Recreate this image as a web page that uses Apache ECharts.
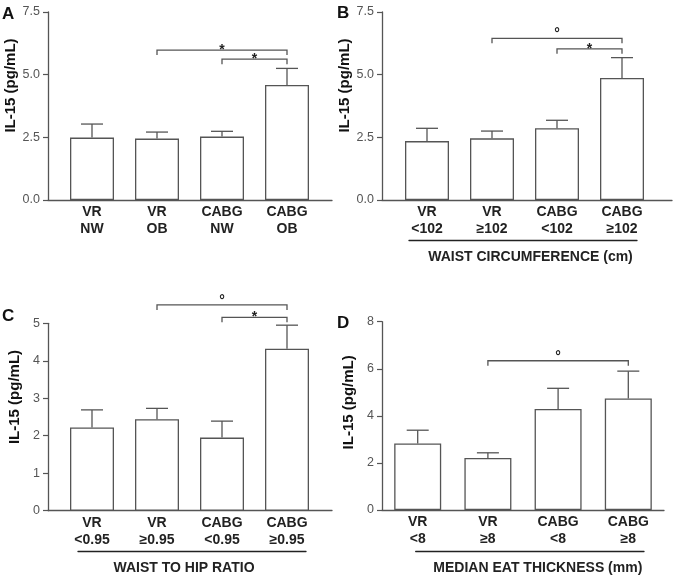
<!DOCTYPE html>
<html><head><meta charset="utf-8">
<script src="https://cdn.jsdelivr.net/npm/echarts@6/dist/echarts.min.js"></script>
<style>html,body{margin:0;padding:0;background:#fff}#c{width:678px;height:579px}</style>
</head><body><div id="c"></div><script>
// ---- data ----
const catsA = ['VR\nNW','VR\nOB','CABG\nNW','CABG\nOB'];
const catsB = ['VR\n<102','VR\n≥102','CABG\n<102','CABG\n≥102'];
const catsC = ['VR\n<0.95','VR\n≥0.95','CABG\n<0.95','CABG\n≥0.95'];
const catsD = ['VR\n<8','VR\n≥8','CABG\n<8','CABG\n≥8'];
const meanA = [2.49, 2.45, 2.53, 4.59];
const upperA = [3.03, 2.71, 2.74, 5.25];
const meanB = [2.35, 2.46, 2.86, 4.87];
const upperB = [2.86, 2.75, 3.18, 5.68];
const meanC = [2.22, 2.44, 1.95, 4.32];
const upperC = [2.69, 2.73, 2.39, 4.95];
const meanD = [2.83, 2.21, 4.29, 4.74];
const upperD = [3.39, 2.43, 5.17, 5.90];
// [from category, to category, height, symbol]
const sigA = [[1, 3, 5.98, '*'], [2, 3, 5.62, '*']];
const sigB = [[1, 3, 6.45, '°'], [2, 3, 6.03, '*']];
const sigC = [[1, 3, 5.49, '°'], [2, 3, 5.16, '*']];
const sigD = [[1, 3, 6.34, '°']];
const yTicksA = [0, 2.5, 5.0, 7.5];
const yTicksB = [0, 2.5, 5.0, 7.5];
const yTicksC = [0, 1, 2, 3, 4, 5];
const yTicksD = [0, 2, 4, 6, 8];
const yTitle = 'IL-15 (pg/mL)';
const xTitleB = 'WAIST CIRCUMFERENCE (cm)';
const xTitleC = 'WAIST TO HIP RATIO';
const xTitleD = 'MEDIAN EAT THICKNESS (mm)';
const letters = ['A', 'B', 'C', 'D'];

// ---- layout ----
const FONT = 'Liberation Sans, Arial, Helvetica, sans-serif';
const AX = '#555';
const panels = [
  {letter: letters[0], cats: catsA, mean: meanA, upper: upperA, sig: sigA, ticks: yTicksA, dec: 1, xTitle: null,
   wide: {left: 48, top: 12, width: 284, height: 188}, narrow: {left: 59.5, width: 260}, barW: 44,
   sep: null, letterPos: {left: 2, top: 6}, nameShift: 41},
  {letter: letters[1], cats: catsB, mean: meanB, upper: upperB, sig: sigB, ticks: yTicksB, dec: 1, xTitle: xTitleB,
   wide: {left: 382, top: 12, width: 290, height: 188}, narrow: {left: 394.5, width: 260}, barW: 44,
   sep: {left: 409, width: 228, bottomY: 240.7, shift: 15}, letterPos: {left: 337, top: 5}, nameShift: 41},
  {letter: letters[2], cats: catsC, mean: meanC, upper: upperC, sig: sigC, ticks: yTicksC, dec: 0, xTitle: xTitleC,
   wide: {left: 48, top: 323.3, width: 284, height: 187.4}, narrow: {left: 59.5, width: 260}, barW: 44,
   sep: {left: 78, width: 228, bottomY: 551.7, shift: -16}, letterPos: {left: 2, top: 308}, nameShift: 40},
  {letter: letters[3], cats: catsD, mean: meanD, upper: upperD, sig: sigD, ticks: yTicksD, dec: 0, xTitle: xTitleD,
   wide: {left: 382, top: 321.7, width: 282, height: 188.3}, narrow: {left: 382.6, width: 280.8}, barW: 47,
   sep: {left: 415.7, width: 228.3, bottomY: 551.7, shift: 16}, letterPos: {left: 337, top: 315}, nameShift: 27}
];

const grid = [], xAxis = [], yAxis = [], series = [], title = [];
panels.forEach(p => {
  const yMin = p.ticks[0], yMax = p.ticks[p.ticks.length - 1], yInt = p.ticks[1] - p.ticks[0];
  // wide grid: axes
  const gw = grid.length;
  grid.push({left: p.wide.left, top: p.wide.top, width: p.wide.width, height: p.wide.height});
  xAxis.push({type: 'value', gridIndex: gw, min: 0, max: 1, axisLine: {show: true, lineStyle: {color: AX, width: 1.3}},
    axisTick: {show: false}, axisLabel: {show: false}, splitLine: {show: false}});
  yAxis.push({type: 'value', gridIndex: gw, min: yMin, max: yMax, interval: yInt,
    axisLine: {show: true, lineStyle: {color: AX, width: 1.3}},
    axisTick: {show: true, length: 5, lineStyle: {color: AX, width: 1.2}},
    axisLabel: {color: '#555', fontSize: 12.5, fontFamily: FONT, margin: 8, formatter: v => v.toFixed(p.dec)},
    splitLine: {show: false},
    name: yTitle, nameLocation: 'middle', nameGap: 26,
    nameTextStyle: {fontFamily: FONT, fontSize: 15, fontWeight: 'bold', color: '#111', padding: [0, 0, 0, p.nameShift]}});
  // narrow grid: bars
  const gn = grid.length;
  grid.push({left: p.narrow.left, top: p.wide.top, width: p.narrow.width, height: p.wide.height});
  xAxis.push({type: 'category', gridIndex: gn, data: p.cats, axisLine: {show: false}, axisTick: {show: false},
    axisLabel: {interval: 0, fontFamily: FONT, fontSize: 14, fontWeight: 'bold', color: '#222', lineHeight: 17, margin: 4}});
  yAxis.push({type: 'value', gridIndex: gn, min: yMin, max: yMax, show: false});
  series.push({type: 'bar', xAxisIndex: gn, yAxisIndex: gn, data: p.mean, barWidth: p.barW, z: 2,
    itemStyle: {color: '#fff', borderColor: AX, borderWidth: 1.3}, silent: true});
  series.push({type: 'custom', xAxisIndex: gn, yAxisIndex: gn, z: 3, silent: true, clip: false,
    data: p.mean.map((m, j) => [j, m, p.upper[j]]),
    renderItem: (params, api) => {
      const a = api.coord([api.value(0), api.value(1)]);
      const b = api.coord([api.value(0), api.value(2)]);
      const st = {stroke: AX, lineWidth: 1.3};
      return {type: 'group', children: [
        {type: 'line', shape: {x1: a[0], y1: a[1], x2: b[0], y2: b[1]}, style: st},
        {type: 'line', shape: {x1: b[0] - 11, y1: b[1], x2: b[0] + 11, y2: b[1]}, style: st}
      ]};
    }});
  series.push({type: 'custom', xAxisIndex: gn, yAxisIndex: gn, z: 3, silent: true, clip: false,
    data: p.sig,
    renderItem: (params, api) => {
      const a = api.coord([api.value(0), api.value(2)]);
      const b = api.coord([api.value(1), api.value(2)]);
      const sym = p.sig[params.dataIndex][3];
      return {type: 'group', children: [
        {type: 'polyline', shape: {points: [[a[0], a[1] + 5], [a[0], a[1]], [b[0], a[1]], [b[0], a[1] + 5]]},
          style: {stroke: AX, lineWidth: 1.3, fill: null}},
        {type: 'text', style: {text: sym, x: (a[0] + b[0]) / 2, y: a[1] + (sym === '*' ? 7 : 3),
          align: 'center', verticalAlign: 'bottom', fontFamily: FONT, fontSize: 14, fontWeight: 'bold', fill: '#222'}}
      ]};
    }});
  // separator grid with x title
  if (p.sep) {
    const gs = grid.length;
    grid.push({left: p.sep.left, top: p.wide.top, width: p.sep.width, height: p.sep.bottomY - p.wide.top});
    const pad = p.sep.shift > 0 ? [0, 0, 0, p.sep.shift] : [0, -p.sep.shift, 0, 0];
    xAxis.push({type: 'value', gridIndex: gs, min: 0, max: 1, axisLine: {show: true, lineStyle: {color: '#222', width: 1.3}},
      axisTick: {show: false}, axisLabel: {show: false}, splitLine: {show: false},
      name: p.xTitle, nameLocation: 'middle', nameGap: 9,
      nameTextStyle: {fontFamily: FONT, fontSize: 14, fontWeight: 'bold', color: '#222', padding: pad}});
    yAxis.push({type: 'value', gridIndex: gs, show: false, min: 0, max: 1});
  }
  title.push({text: p.letter, left: p.letterPos.left, top: p.letterPos.top, padding: 0,
    textStyle: {fontFamily: FONT, fontSize: 17, fontWeight: 'bold', color: '#111'}});
});

const chart = echarts.init(document.getElementById('c'), null, {renderer: 'canvas'});
chart.setOption({animation: false, backgroundColor: '#fff', title, grid, xAxis, yAxis, series});
</script></body></html>
